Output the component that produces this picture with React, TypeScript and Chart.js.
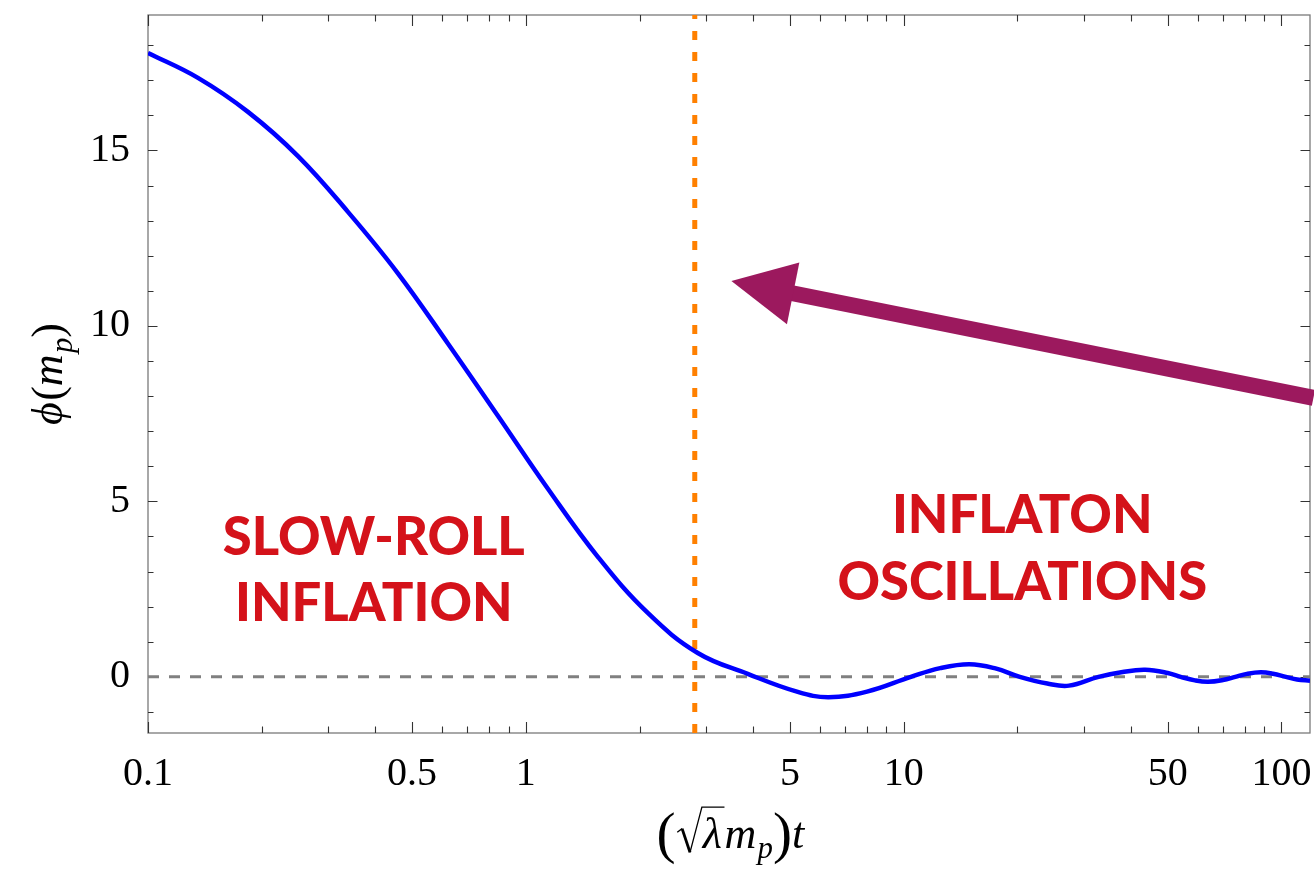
import React, { useEffect, useRef } from 'react';
import { Chart, registerables } from 'chart.js';

Chart.register(...registerables);

// ---- data ----
const T_VALUES = [0.1, 0.1356, 0.1839, 0.2494, 0.3382, 0.4586, 0.6219, 0.8433, 1.144, 1.551, 2.103, 2.852, 3.867, 5.245, 6.33, 8.0, 10.45, 12.5, 14.93, 17.5, 20.3, 24.0, 27.4, 32.8, 38.0, 43.6, 50.0, 54.1, 59.0, 63.9, 70.0, 75.5, 81.0, 88.1, 95.0, 102.8, 110.0, 119];
const PHI_VALUES = [17.78, 17.07, 16.1, 14.84, 13.25, 11.5, 9.5, 7.44, 5.36, 3.42, 1.82, 0.68, 0.085, -0.43, -0.58, -0.42, 0, 0.25, 0.36, 0.24, 0, -0.19, -0.25, 0, 0.14, 0.2, 0.11, 0, -0.1, -0.14, -0.09, 0, 0.085, 0.13, 0.09, 0, -0.075, -0.11];

const X_MIN = 0.1;
const X_MAX = 119;
const Y_MIN = -1.6;
const Y_MAX = 18.86;

const X_MAJOR_TICKS = [0.1, 0.5, 1, 5, 10, 50, 100];
const X_TICK_LABELS = ['0.1', '0.5', '1', '5', '10', '50', '100'];
const X_MINOR_TICKS = [0.2, 0.3, 0.4, 0.6, 0.7, 0.8, 0.9, 2, 3, 4, 6, 7, 8, 9, 20, 30, 40, 60, 70, 80, 90];
const Y_MAJOR_TICKS = [0, 5, 10, 15];
const Y_TICK_LABELS = ['0', '5', '10', '15'];
const Y_MINOR_TICKS = [-1, 1, 2, 3, 4, 6, 7, 8, 9, 11, 12, 13, 14, 16, 17, 18];

const END_OF_INFLATION_T = 2.8;
const ZERO_LEVEL = 0;

const SLOW_ROLL_LINES = ['SLOW-ROLL', 'INFLATION'];
const SLOW_ROLL_T = 0.396;
const SLOW_ROLL_PHI = [3.48, 1.58];
const OSC_LINES = ['INFLATON', 'OSCILLATIONS'];
const OSC_T = 20.6;
const OSC_PHI = [4.11, 2.19];

const ARROW_TAIL = { t: 121.5, phi: 7.95 };
const ARROW_TIP = { t: 3.5, phi: 11.28 };

// ---- styling ----
const SERIF = '"Liberation Serif", "DejaVu Serif", serif';
const mathFont = (size: number, italic: boolean) => `${italic ? 'italic ' : ''}${size}px ${SERIF}`;

type Seg = { s: string; it?: boolean; sub?: boolean; big?: boolean; sqrt?: boolean };

function drawMath(ctx: CanvasRenderingContext2D, segs: Seg[], cx: number, baseline: number, fs: number) {
  const widths = segs.map((seg) => {
    if (seg.sqrt) {
      ctx.font = mathFont(fs, true);
      return fs * 0.62 + ctx.measureText(seg.s).width + fs * 0.06;
    }
    const size = seg.sub ? fs * 0.7 : seg.big ? fs * 1.3 : fs;
    ctx.font = mathFont(size, !!seg.it);
    return ctx.measureText(seg.s).width + (seg.it && !seg.sub ? fs * 0.03 : 0);
  });
  const total = widths.reduce((a, b) => a + b, 0);
  let x = cx - total / 2;
  ctx.fillStyle = '#000';
  ctx.strokeStyle = '#000';
  ctx.textAlign = 'left';
  ctx.textBaseline = 'alphabetic';
  segs.forEach((seg, i) => {
    if (seg.sqrt) {
      const top = baseline - fs * 0.93;
      ctx.lineJoin = 'miter';
      ctx.lineCap = 'butt';
      ctx.beginPath();
      ctx.lineWidth = fs * 0.03;
      ctx.moveTo(x + fs * 0.04, baseline - fs * 0.36);
      ctx.lineTo(x + fs * 0.15, baseline - fs * 0.44);
      ctx.stroke();
      ctx.beginPath();
      ctx.lineWidth = fs * 0.065;
      ctx.moveTo(x + fs * 0.15, baseline - fs * 0.44);
      ctx.lineTo(x + fs * 0.33, baseline + fs * 0.1);
      ctx.stroke();
      ctx.beginPath();
      ctx.lineWidth = fs * 0.03;
      ctx.moveTo(x + fs * 0.33, baseline + fs * 0.1);
      ctx.lineTo(x + fs * 0.6, top);
      ctx.lineTo(x + widths[i], top);
      ctx.stroke();
      ctx.font = mathFont(fs, true);
      ctx.fillText(seg.s, x + fs * 0.62, baseline);
    } else {
      const size = seg.sub ? fs * 0.7 : seg.big ? fs * 1.3 : fs;
      ctx.font = mathFont(size, !!seg.it);
      const y = seg.sub ? baseline + fs * 0.22 : seg.big ? baseline + fs * 0.08 : baseline;
      ctx.fillText(seg.s, x, y);
    }
    x += widths[i];
  });
}

const framePlugin = {
  id: 'frameTicks',
  beforeDatasetsDraw(chart: any) {
    const { ctx, chartArea } = chart;
    const { left, right, top, bottom } = chartArea;
    const xs = chart.scales.x;
    const ys = chart.scales.y;
    ctx.save();
    ctx.strokeStyle = '#7a7a7a';
    ctx.lineWidth = 1.3;
    ctx.strokeRect(left, top, right - left, bottom - top);
    ctx.strokeStyle = '#333';
    ctx.lineWidth = 1.1;
    const xTick = (v: number, len: number) => {
      const px = Math.round(xs.getPixelForValue(v)) + 0.5;
      ctx.beginPath();
      ctx.moveTo(px, bottom);
      ctx.lineTo(px, bottom - len);
      ctx.moveTo(px, top);
      ctx.lineTo(px, top + len);
      ctx.stroke();
    };
    const yTick = (v: number, len: number) => {
      const py = Math.round(ys.getPixelForValue(v)) + 0.5;
      ctx.beginPath();
      ctx.moveTo(left, py);
      ctx.lineTo(left + len, py);
      ctx.moveTo(right, py);
      ctx.lineTo(right - len, py);
      ctx.stroke();
    };
    X_MAJOR_TICKS.forEach((v) => xTick(v, 11));
    X_MINOR_TICKS.forEach((v) => xTick(v, 6.5));
    Y_MAJOR_TICKS.forEach((v) => yTick(v, 9.5));
    Y_MINOR_TICKS.forEach((v) => yTick(v, 5.5));
    ctx.restore();
  },
  afterDatasetsDraw(chart: any) {
    const { ctx } = chart;
    const xs = chart.scales.x;
    const ys = chart.scales.y;
    ctx.save();
    // region labels
    ctx.fillStyle = '#d4121a';
    ctx.font = '900 52.5px Lato, "Open Sans", sans-serif';
    ctx.textAlign = 'center';
    ctx.textBaseline = 'alphabetic';
    SLOW_ROLL_LINES.forEach((line, i) => {
      ctx.fillText(line, xs.getPixelForValue(SLOW_ROLL_T), ys.getPixelForValue(SLOW_ROLL_PHI[i]));
    });
    OSC_LINES.forEach((line, i) => {
      ctx.fillText(line, xs.getPixelForValue(OSC_T), ys.getPixelForValue(OSC_PHI[i]));
    });
    // arrow
    const x0 = xs.getPixelForValue(ARROW_TAIL.t);
    const y0 = ys.getPixelForValue(ARROW_TAIL.phi);
    const x1 = xs.getPixelForValue(ARROW_TIP.t);
    const y1 = ys.getPixelForValue(ARROW_TIP.phi);
    const dx = x1 - x0;
    const dy = y1 - y0;
    const len = Math.hypot(dx, dy);
    const ux = dx / len;
    const uy = dy / len;
    const headLen = 63;
    const headHalf = 31.5;
    const bx = x1 - ux * headLen;
    const by = y1 - uy * headLen;
    ctx.strokeStyle = '#9c195e';
    ctx.fillStyle = '#9c195e';
    ctx.lineWidth = 16;
    ctx.lineCap = 'butt';
    ctx.beginPath();
    ctx.moveTo(x0, y0);
    ctx.lineTo(bx + ux * 2, by + uy * 2);
    ctx.stroke();
    ctx.beginPath();
    ctx.moveTo(x1, y1);
    ctx.lineTo(bx - uy * headHalf, by + ux * headHalf);
    ctx.lineTo(bx + uy * headHalf, by - ux * headHalf);
    ctx.closePath();
    ctx.fill();
    ctx.restore();
  },
  afterDraw(chart: any) {
    const { ctx, chartArea } = chart;
    const cx = (chartArea.left + chartArea.right) / 2;
    const cy = (chartArea.top + chartArea.bottom) / 2;
    ctx.save();
    drawMath(
      ctx,
      [
        { s: '(', big: true },
        { s: 'λ', sqrt: true },
        { s: 'm', it: true },
        { s: 'p', it: true, sub: true },
        { s: ')', big: true },
        { s: 't', it: true },
      ],
      cx + 2,
      848,
      44
    );
    ctx.restore();
    ctx.save();
    ctx.translate(62, cy);
    ctx.rotate(-Math.PI / 2);
    drawMath(
      ctx,
      [
        { s: 'ϕ', it: true },
        { s: '(' },
        { s: 'm', it: true },
        { s: 'p', it: true, sub: true },
        { s: ')' },
      ],
      0,
      0,
      44
    );
    ctx.restore();
  },
};

export default function App() {
  const canvasRef = useRef<HTMLCanvasElement | null>(null);

  useEffect(() => {
    document.body.style.margin = '0';
    const canvas = canvasRef.current;
    if (!canvas) return;
    const curve = T_VALUES.map((t, i) => ({ x: t, y: PHI_VALUES[i] }));
    const chart = new Chart(canvas, {
      type: 'line',
      data: {
        datasets: [
          {
            data: curve,
            borderColor: '#0000ff',
            borderWidth: 4.5,
            pointRadius: 0,
            tension: 0.4,
            fill: false,
            order: 0,
          },
          {
            data: [
              { x: END_OF_INFLATION_T, y: Y_MIN },
              { x: END_OF_INFLATION_T, y: Y_MAX },
            ],
            borderColor: '#ff8000',
            borderWidth: 5,
            borderDash: [9, 12],
            pointRadius: 0,
            fill: false,
            order: 1,
          },
          {
            data: [
              { x: X_MIN, y: ZERO_LEVEL },
              { x: X_MAX, y: ZERO_LEVEL },
            ],
            borderColor: '#808080',
            borderWidth: 3,
            borderDash: [11, 10],
            pointRadius: 0,
            fill: false,
            order: 2,
          },
        ],
      },
      options: {
        responsive: false,
        animation: false,
        devicePixelRatio: 1,
        parsing: false,
        layout: { padding: { top: 15, right: 4, left: 0, bottom: 0 } },
        plugins: { legend: { display: false }, tooltip: { enabled: false } },
        scales: {
          x: {
            type: 'logarithmic',
            min: X_MIN,
            max: X_MAX,
            grid: { display: false },
            border: { display: false },
            afterBuildTicks: (s: any) => {
              s.ticks = X_MAJOR_TICKS.map((v) => ({ value: v }));
            },
            ticks: {
              autoSkip: false,
              maxRotation: 0,
              minRotation: 0,
              padding: 9,
              color: '#000',
              font: { family: SERIF, size: 40 },
              callback: (v: any) => X_TICK_LABELS[X_MAJOR_TICKS.indexOf(Number(v))] ?? '',
            },
            afterFit: (s: any) => {
              s.height = 136;
              s.paddingLeft = 0;
              s.paddingRight = 0;
            },
          },
          y: {
            type: 'linear',
            min: Y_MIN,
            max: Y_MAX,
            grid: { display: false },
            border: { display: false },
            afterBuildTicks: (s: any) => {
              s.ticks = Y_MAJOR_TICKS.map((v) => ({ value: v }));
            },
            ticks: {
              padding: 10,
              color: '#000',
              font: { family: SERIF, size: 40 },
              callback: (v: any) => Y_TICK_LABELS[Y_MAJOR_TICKS.indexOf(Number(v))] ?? '',
            },
            afterFit: (s: any) => {
              s.width = 148;
              s.paddingTop = 0;
              s.paddingBottom = 0;
            },
          },
        },
      } as any,
      plugins: [framePlugin],
    });
    return () => chart.destroy();
  }, []);

  return (
    <div style={{ width: 1314, height: 869, background: '#fff' }}>
      <canvas ref={canvasRef} width={1314} height={869} style={{ display: 'block' }} />
    </div>
  );
}
